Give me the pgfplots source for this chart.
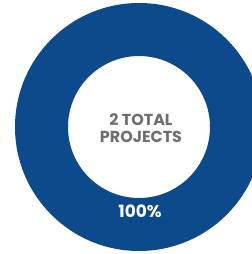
\documentclass[border=0pt]{standalone}
\usepackage{pgfplots}
\usepackage{pgfplotstable}
\pgfplotsset{compat=1.18}
\usepackage{fontspec}
\setmainfont{Poppins}
\definecolor{ringblue}{RGB}{12,74,140}
\definecolor{txtgray}{RGB}{110,110,110}
\pgfplotstableread{
label value
Projects 100
}\piedata
\begin{document}
\begin{tikzpicture}
\useasboundingbox (0,0) rectangle (252bp,254bp);
\begin{axis}[
  at={(0,0)}, anchor=origin,
  x=1bp, y=1bp,
  xmin=0, xmax=252, ymin=0, ymax=254,
  hide axis, clip=true,
]
\pgfplotstablegetelem{0}{value}\of\piedata
\pgfmathsetmacro{\share}{\pgfplotsretval/100}
% full ring for a 100% share
\fill[ringblue, even odd rule] (axis cs:139,127) circle[radius=124bp] (axis cs:139,127) circle[radius=71bp];
\node[txtgray, font=\fontsize{16}{17}\selectfont\bfseries, align=center, inner sep=0pt] at (axis cs:141,126) {2 TOTAL\\PROJECTS};
\node[white, font=\fontsize{17}{18}\selectfont\bfseries, inner sep=0pt] at (axis cs:140,43) {100\%};
\end{axis}
\end{tikzpicture}
\end{document}
